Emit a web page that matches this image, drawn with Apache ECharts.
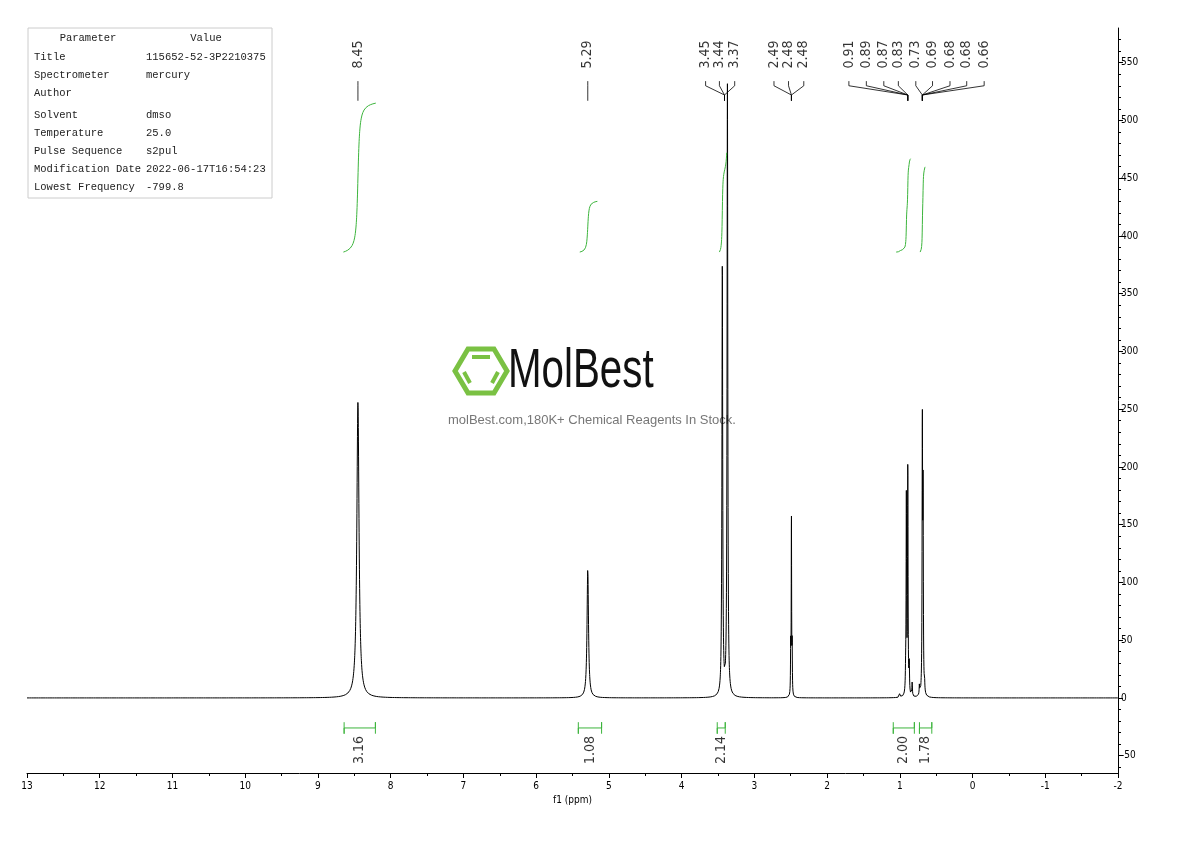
<!DOCTYPE html>
<html><head><meta charset="utf-8">
<script src="https://cdn.jsdelivr.net/npm/echarts@6/dist/echarts.min.js"></script>
<style>html,body{margin:0;background:#fff}#c{width:1190px;height:841px}</style></head>
<body><div id="c"></div>
<script>
// Peak list: shift (ppm), height, half-width (ppm)
const peakShift = [8.45, 5.29, 3.45, 3.44, 3.37, 2.50, 2.49, 2.48, 0.92, 0.91, 0.89, 0.87, 0.83, 0.73, 0.69, 0.68, 0.66, 1.00];
const peakHeight = [256, 112, 12, 369, 529, 40, 155, 40, 12, 170, 197, 25, 12, 10, 228, 165, 10, 4];
const peakWidth = [0.018, 0.012, 0.006, 0.006, 0.006, 0.003, 0.003, 0.003, 0.004, 0.004, 0.004, 0.004, 0.004, 0.004, 0.004, 0.004, 0.004, 0.005];
// Peak labels (top)
const peakLabels = ['8.45','5.29','3.45','3.44','3.37','2.49','2.48','2.48','0.91','0.89','0.87','0.83','0.73','0.69','0.68','0.68','0.66'];
const peakLabelTarget = [8.45,5.29,3.41,3.41,3.41,2.49,2.49,2.49,0.89,0.89,0.89,0.89,0.69,0.69,0.69,0.69,0.69];
// Integrations
const integValues = ['3.16','1.08','2.14','2.00','1.78'];
const integFrom = [8.64, 5.42, 3.51, 1.09, 0.73];
const integTo = [8.21, 5.10, 3.40, 0.80, 0.56];
const integCurveFrom = [8.65, 5.40, 3.48, 1.05, 0.72];
const integCurveTo = [8.20, 5.15, 3.38, 0.85, 0.65];
const integTop = [515, 430, 472, 467, 460];
const integBase = 386;
// Parameter table
const paramNames = ['Title','Spectrometer','Author','Solvent','Temperature','Pulse Sequence','Modification Date','Lowest Frequency'];
const paramValues = ['115652-52-3P2210375','mercury','','dmso','25.0','s2pul','2022-06-17T16:54:23','-799.8'];
const yTicks = [-50,0,50,100,150,200,250,300,350,400,450,500,550];
const yMinorTicks = [-60,-40,-30,-20,-10,10,20,30,40,60,70,80,90,110,120,130,140,160,170,180,190,210,220,230,240,260,270,280,290,310,320,330,340,360,370,380,390,410,420,430,440,460,470,480,490,510,520,530,540,560,570];

// layout (label x placement in ppm for spread labels)
const labelPos = [8.45,5.29,3.67,3.48,3.27,2.73,2.53,2.32,1.70,1.46,1.22,1.02,0.78,0.55,0.31,0.08,-0.16];
const NARROW='"DejaVu Sans Condensed","Noto Sans",sans-serif';

function spec(x){let s=0;for(let i=0;i<peakShift.length;i++){const d=(x-peakShift[i])/peakWidth[i];s+=peakHeight[i]/(1+d*d);}return s;}
const specData=[];
for(let x=13;x>=-2;x-=0.0015){specData.push([x,spec(x)]);}
function cum(x){let s=0;for(let i=0;i<peakShift.length;i++){s+=peakHeight[i]*peakWidth[i]*Math.atan((peakShift[i]-x)/peakWidth[i]);}return s;}
const series=[{type:'line',data:specData,showSymbol:false,lineStyle:{color:'#000',width:1},silent:true,z:3,animation:false}];
for(let k=0;k<integValues.length;k++){
  const a=integCurveFrom[k],b=integCurveTo[k],c0=cum(a),c1=cum(b),pts=[];
  for(let x=a;x>=b;x-=0.002){pts.push([x,integBase+(integTop[k]-integBase)*(cum(x)-c0)/(c1-c0)]);}
  series.push({type:'line',data:pts,showSymbol:false,lineStyle:{color:'#3cb43c',width:1},animation:false});
  series.push({type:'line',data:[[integFrom[k],-21],[integFrom[k],-31],[integFrom[k],-26],[integTo[k],-26],[integTo[k],-21],[integTo[k],-31]],showSymbol:false,lineStyle:{color:'#3cb43c',width:1},animation:false});
}
for(let k=0;k<peakLabels.length;k++){
  series.push({type:'line',data:[[labelPos[k],534],[labelPos[k],530],[peakLabelTarget[k],522],[peakLabelTarget[k],517]],showSymbol:false,lineStyle:{color:'#000',width:0.8},animation:false});
}
series.push({type:'scatter',symbolSize:0,animation:false,data:peakLabels.map((t,i)=>({value:[labelPos[i],557],name:t})),
  label:{show:true,rotate:90,position:'inside',formatter:p=>p.name,fontFamily:NARROW,fontSize:14,color:'#000'}});
series.push({type:'scatter',symbolSize:0,animation:false,data:integValues.map((t,i)=>({value:[(integFrom[i]+integTo[i])/2,-45],name:t})),
  label:{show:true,rotate:90,position:'inside',formatter:p=>p.name,fontFamily:NARROW,fontSize:14,color:'#000'}});

const TF='10.5px "Liberation Mono",monospace';
const tableEls=[{type:'rect',shape:{x:28,y:28,width:244,height:170},style:{fill:'#fff',stroke:'#ccc',lineWidth:1}},
 {type:'text',x:88,y:33,style:{text:'Parameter',font:TF,fill:'#222',textAlign:'center'}},
 {type:'text',x:206,y:33,style:{text:'Value',font:TF,fill:'#222',textAlign:'center'}}];
const rowY=[52,70,88,110,128,146,164,182];
paramNames.forEach((n,i)=>{tableEls.push({type:'text',x:34,y:rowY[i],style:{text:n,font:TF,fill:'#222'}});
 tableEls.push({type:'text',x:146,y:rowY[i],style:{text:paramValues[i],font:TF,fill:'#222'}});});
const logo=[
 {type:'polygon',shape:{points:[[468,349],[494,349],[507,371],[494,393],[468,393],[455,371]]},style:{fill:'none',stroke:'#7ac143',lineWidth:5}},
 {type:'line',shape:{x1:472,y1:357,x2:490,y2:357},style:{stroke:'#7ac143',lineWidth:4}},
 {type:'line',shape:{x1:464,y1:372,x2:470,y2:383},style:{stroke:'#7ac143',lineWidth:4}},
 {type:'line',shape:{x1:498,y1:372,x2:492,y2:383},style:{stroke:'#7ac143',lineWidth:4}},
 {type:'text',x:508,y:344,scaleX:0.72,style:{text:'MolBest',font:'56px "Liberation Sans"',fill:'#111'}},
 {type:'text',x:448,y:414,style:{text:'molBest.com,180K+ Chemical Reagents In Stock.',font:'13px "Liberation Sans"',fill:'#777'}}
];
const chart=echarts.init(document.getElementById('c'));
chart.setOption({animation:false,
 grid:{left:27,right:72,top:28,bottom:68},
 xAxis:{type:'value',inverse:true,min:-2,max:13,interval:1,name:'f1 (ppm)',nameLocation:'middle',nameGap:22,
   nameTextStyle:{fontSize:10,color:'#000',fontFamily:NARROW},
   axisLine:{onZero:false,lineStyle:{color:'#000'}},axisTick:{length:5,lineStyle:{color:'#000'}},
   minorTick:{show:true,splitNumber:2,length:3,lineStyle:{color:'#000'}},
   axisLabel:{color:'#000',fontSize:10,fontFamily:NARROW,margin:8},splitLine:{show:false}},
 yAxis:[{type:'value',position:'right',min:-65,max:580,
   axisLine:{show:true,onZero:false,lineStyle:{color:'#000'}},axisTick:{show:true,length:5,customValues:yTicks,lineStyle:{color:'#000'}},
   axisLabel:{color:'#000',fontSize:10,fontFamily:NARROW,margin:3,customValues:yTicks},splitLine:{show:false}},
  {type:'value',position:'right',min:-65,max:580,
   axisLine:{show:false,onZero:false},axisTick:{show:true,length:3,customValues:yMinorTicks,lineStyle:{color:'#000'}},
   axisLabel:{show:false},splitLine:{show:false}}],
 series:series,
 graphic:tableEls.concat(logo)
});
</script></body></html>
